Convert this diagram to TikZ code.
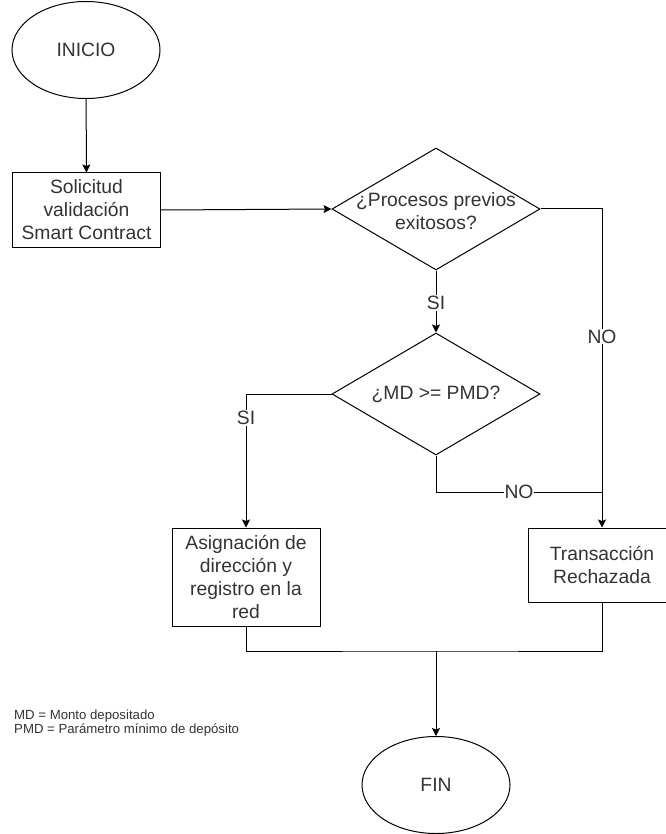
\documentclass[tikz,border=0pt]{standalone}
\usepackage{fontspec}
\setmainfont{Liberation Sans}
\usetikzlibrary{shapes.geometric,arrows.meta}

\definecolor{ink}{RGB}{51,51,51}

\tikzset{
  base/.style={draw=black, line width=1pt, text=ink, align=center, inner sep=0pt,
    font=\fontsize{19.3}{23}\selectfont},
  terminal/.style={base, ellipse, minimum width=148pt, minimum height=97pt},
  process/.style={base, rectangle, minimum width=148pt},
  decision/.style={base, diamond, minimum width=208pt, minimum height=122pt},
  flow/.style={draw=black, line width=1pt},
  arrowflow/.style={flow, -{Stealth[length=8pt,width=8pt,inset=1.5pt]}},
  lbl/.style={fill=white, text=ink, inner sep=1pt, font=\fontsize{19.3}{23}\selectfont},
  legend/.style={text=ink, align=left, anchor=north west, inner sep=0pt,
    font=\fontsize{13.2}{14}\selectfont}
}

\begin{document}
\begin{tikzpicture}[x=1pt, y=-1pt]
  \useasboundingbox (0,0) rectangle (665,834);

  % start / end
  \node[terminal] (inicio) at (86,50) {INICIO};
  \node[terminal] (fin) at (436,785) {FIN};

  % process boxes
  \node[process, minimum height=74pt] (solicitud) at (86.5,210)
    {Solicitud\\validación\\Smart Contract};
  \node[process, minimum height=98pt] (asig) at (246,577)
    {Asignación de\\dirección y\\registro en la\\red};
  \node[process, minimum height=74pt] (trans) at (602,565)
    {Transacción\\Rechazada};

  % decisions
  \node[decision, label={[base, draw=none, yshift=-2pt]center:{¿Procesos previos\\exitosos?}}]
    (d1) at (436,209) {};
  \node[decision, label={[base, draw=none]center:{¿MD >= PMD?}}]
    (d2) at (436,394) {};

  % bend and junction points
  \coordinate (noTop) at (602,209);
  \coordinate (siLeft) at (246,394);
  \coordinate (noBend) at (436,492);
  \coordinate (noJoin) at (602,492);
  \coordinate (merge) at (436,651);

  % connectors
  \draw[arrowflow] (inicio) -- (solicitud);
  \draw[arrowflow] (solicitud.east) -- (d1.west);
  \draw[arrowflow] (d1.south) -- node[lbl, pos=0.52] {SI} (d2.north);
  \draw[arrowflow] (d2.west) -- (siLeft) -- node[lbl, pos=0.18] {SI} (asig.north);
  \draw[arrowflow] (d1.east) -- (noTop) -- node[lbl, pos=0.40] {NO} (trans.north);
  \draw[flow] (d2.south) -- (noBend) -- node[lbl] {NO} (noJoin);
  \draw[flow] (asig.south) |- (merge) -| (trans.south);
  \draw[arrowflow] (merge) -- (fin.north);

  % legend
  \node[legend] (leyenda) at (14,710)
    {MD = Monto depositado\\PMD = Parámetro mínimo de depósito};
\end{tikzpicture}
\end{document}
